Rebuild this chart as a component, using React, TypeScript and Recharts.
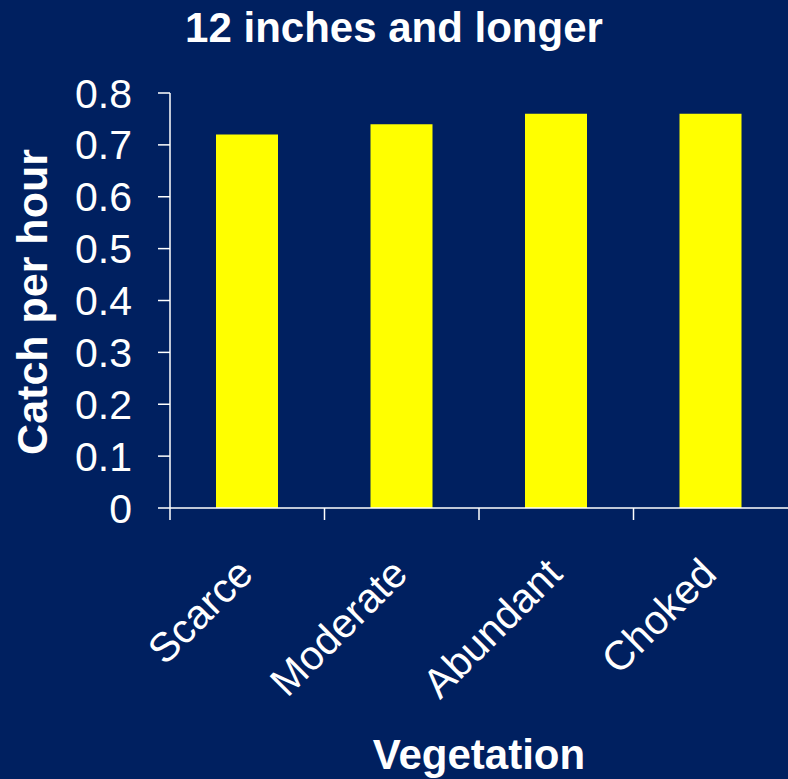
import { BarChart, Bar, XAxis, YAxis, Label } from "recharts";

const categories = ["Scarce", "Moderate", "Abundant", "Choked"];
const catchPerHour = [0.72, 0.74, 0.76, 0.76];
const yTicks = [0, 0.1, 0.2, 0.3, 0.4, 0.5, 0.6, 0.7, 0.8];

const data = categories.map((c, i) => ({ name: c, value: catchPerHour[i] }));

const BG = "#002060";
const FONT = "'Liberation Sans', Arial, sans-serif";
const W = 788;
const H = 779;
const LEFT = 170;
const BAND = (W - LEFT) / categories.length;

function CategoryTick(props: any) {
  const { x, y, payload } = props;
  const axisY = y - 4;
  return (
    <g>
      <line x1={x - BAND / 2} y1={axisY} x2={x - BAND / 2} y2={axisY + 12} stroke="#ffffff" strokeWidth={1.5} />
      <text
        x={x + 8}
        y={axisY + 68}
        transform={`rotate(-45, ${x + 8}, ${axisY + 68})`}
        textAnchor="end"
        fill="#ffffff"
        fontSize={41}
        fontFamily={FONT}
      >
        {payload.value}
      </text>
    </g>
  );
}

export default function App() {
  return (
    <div style={{ position: "absolute", left: 0, top: 0, width: W, height: H, background: BG }}>
      <div
        style={{
          position: "absolute",
          left: 0,
          top: 4,
          width: W,
          textAlign: "center",
          color: "#ffffff",
          fontFamily: FONT,
          fontWeight: "bold",
          fontSize: 42,
          lineHeight: "48px",
        }}
      >
        12 inches and longer
      </div>
      <BarChart width={W} height={H} data={data} margin={{ top: 93, right: 0, left: 0, bottom: 0 }}>
        <XAxis
          dataKey="name"
          height={271}
          tickLine={false}
          tickSize={0}
          tickMargin={4}
          interval={0}
          axisLine={{ stroke: "#ffffff", strokeWidth: 1.5 }}
          tick={<CategoryTick />}
        >
          <Label
            value="Vegetation"
            position="insideBottom"
            offset={10}
            fill="#ffffff"
            fontSize={42}
            fontWeight="bold"
            fontFamily={FONT}
          />
        </XAxis>
        <YAxis
          width={LEFT}
          domain={[0, 0.8]}
          ticks={yTicks}
          interval={0}
          tickSize={12}
          tickMargin={26}
          axisLine={{ stroke: "#ffffff", strokeWidth: 1.5 }}
          tickLine={{ stroke: "#ffffff", strokeWidth: 1.5 }}
          tick={{ fill: "#ffffff", fontSize: 41, fontFamily: FONT }}
        >
          <Label
            content={() => {
              const cx = 47;
              const cy = 302;
              return (
                <text
                  x={cx}
                  y={cy}
                  transform={`rotate(-90, ${cx}, ${cy})`}
                  textAnchor="middle"
                  fill="#ffffff"
                  fontSize={43}
                  fontWeight="bold"
                  fontFamily={FONT}
                >
                  Catch per hour
                </text>
              );
            }}
          />
        </YAxis>
        <Bar dataKey="value" fill="#FFFF00" barSize={62} isAnimationActive={false} />
      </BarChart>
    </div>
  );
}
